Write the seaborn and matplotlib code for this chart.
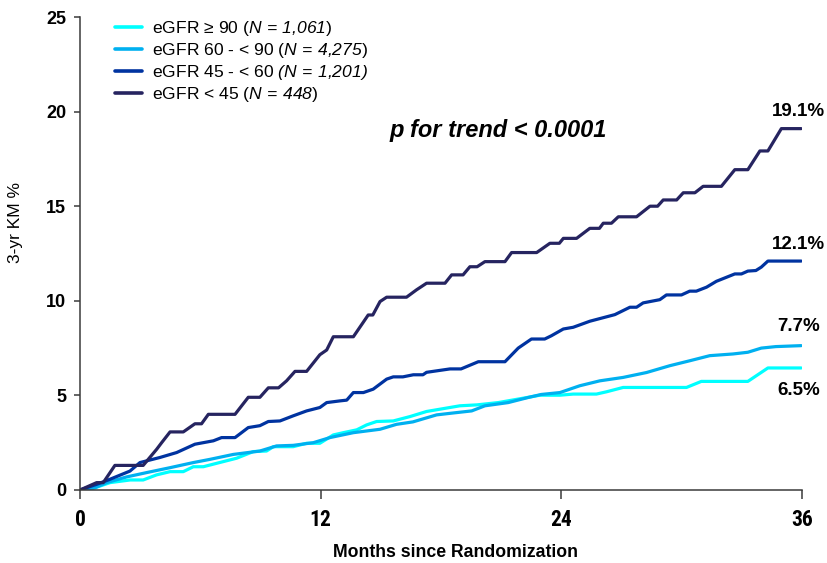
import matplotlib
matplotlib.use("Agg")
import matplotlib.pyplot as plt
from matplotlib import font_manager as fm
import seaborn as sns
import pandas as pd

# ---------------- data ----------------
groups = [
    r"eGFR ≥ 90 ($\mathsf{N\,=\,1{,}061}$)",
    r"eGFR 60 - < 90 ($\mathsf{N\,=\,4{,}275}$)",
    r"eGFR 45 - < 60 $\mathsf{(N\,=\,1{,}201)}$",
    r"eGFR < 45 ($\mathsf{N\,=\,448}$)",
]
colors = ["#00FFFF", "#00B0F0", "#0033A0", "#262460"]
end_labels = ["6.5%", "7.7%", "12.1%", "19.1%"]
end_label_y = [5.28, 8.65, 13.0, 20.0]

months_ge90 = [0, 0.41, 1.5, 2.5, 3.15, 3.82, 4.49, 5.15, 5.65, 6.15, 6.81, 7.81, 8.64, 9.3, 9.64,
               10.63, 11.3, 11.96, 12.63, 13.13, 13.8, 14.29, 14.79, 15.62, 16.45, 17.28, 18.94,
               19.8, 20.85, 22.35, 22.93, 23.93, 24.59, 25.75, 26.25, 27.08, 30.24, 30.98, 33.3,
               34.3, 35.96]
km_ge90 = [0, 0, 0.39, 0.53, 0.53, 0.8, 0.97, 0.97, 1.23, 1.23, 1.41, 1.68, 2.03, 2.06, 2.29,
           2.29, 2.47, 2.47, 2.91, 3.03, 3.18, 3.44, 3.62, 3.65, 3.88, 4.15, 4.45,
           4.5, 4.62, 4.9, 5.01, 5.01, 5.07, 5.07, 5.19, 5.42, 5.42, 5.74, 5.74,
           6.45, 6.45]

months_60_90 = [0, 0.75, 1.33, 2.32, 3.32, 4.49, 5.65, 6.48, 7.64, 8.97, 9.8, 10.63, 11.63, 12.46,
                13.63, 14.96, 15.78, 16.6, 17.78, 18.6, 19.53, 20.19, 21.35, 22.35, 23.0, 23.93,
                24.92, 25.92, 27.08, 28.25, 29.41, 30.4, 31.4, 32.56, 33.3, 33.97, 34.7, 35.96]
km_60_90 = [0, 0.12, 0.39, 0.69, 0.92, 1.18, 1.45, 1.62, 1.88, 2.06, 2.33, 2.36, 2.5, 2.77,
            3.03, 3.21, 3.47, 3.6, 3.97, 4.07, 4.18, 4.45, 4.62, 4.89, 5.05, 5.15,
            5.51, 5.77, 5.95, 6.21, 6.57, 6.83, 7.1, 7.19, 7.28, 7.5, 7.58, 7.63]

months_45_60 = [0, 0.83, 1.5, 2.49, 2.99, 3.99, 4.82, 5.73, 6.65, 7.06, 7.73, 8.39, 8.97, 9.39,
                9.97, 10.63, 11.3, 11.96, 12.3, 12.96, 13.3, 13.63, 14.13, 14.62, 15.29, 15.62,
                16.1, 16.62, 17.1, 17.28, 18.45, 19.0, 19.86, 21.19, 21.85, 22.51, 23.17, 23.5,
                24.1, 24.59, 25.42, 26.67, 27.42, 27.75, 28.08, 28.91, 29.24, 29.99, 30.4, 30.73,
                31.24, 31.73, 32.65, 32.98, 33.3, 33.7, 33.97, 34.3, 35.96]
km_45_60 = [0, 0.3, 0.57, 1.0, 1.45, 1.72, 1.98, 2.42, 2.6, 2.77, 2.77, 3.3, 3.4, 3.62,
            3.65, 3.92, 4.18, 4.36, 4.62, 4.71, 4.75, 5.15, 5.15, 5.33, 5.86, 5.98,
            5.98, 6.09, 6.09, 6.22, 6.4, 6.4, 6.78, 6.78, 7.5, 7.98, 7.98, 8.15,
            8.51, 8.6, 8.92, 9.27, 9.66, 9.66, 9.89, 10.06, 10.31, 10.31, 10.51, 10.51,
            10.72, 11.03, 11.42, 11.42, 11.57, 11.6, 11.78, 12.1, 12.1]

months_lt45 = [0, 0.83, 1.16, 1.74, 3.15, 3.82, 4.07, 4.49, 5.15, 5.73, 6.06, 6.4, 7.73, 8.39,
               8.97, 9.39, 9.9, 10.3, 10.72, 11.3, 11.96, 12.3, 12.63, 13.63, 14.12, 14.37,
               14.6, 14.96, 15.29, 16.28, 16.78, 17.28, 18.2, 18.53, 19.1, 19.44, 19.8, 20.19,
               21.19, 21.52, 22.77, 23.43, 23.9, 24.1, 24.76, 25.42, 25.9, 26.09, 26.5, 26.84,
               27.75, 28.42, 28.8, 29.08, 29.75, 30.08, 30.66, 31.07, 31.98, 32.65, 33.3, 33.9,
               34.3, 34.97, 35.96]
km_lt45 = [0, 0.39, 0.39, 1.3, 1.3, 2.15, 2.5, 3.07, 3.07, 3.5, 3.5, 4.0, 4.0, 4.9,
           4.9, 5.4, 5.4, 5.77, 6.27, 6.27, 7.15, 7.4, 8.1, 8.1, 8.86, 9.25,
           9.25, 9.96, 10.19, 10.19, 10.58, 10.93, 10.93, 11.37, 11.37, 11.8, 11.8, 12.07,
           12.07, 12.55, 12.55, 13.04, 13.04, 13.3, 13.3, 13.83, 13.83, 14.1, 14.1, 14.44,
           14.44, 15.0, 15.0, 15.33, 15.33, 15.71, 15.71, 16.05, 16.05, 16.93, 16.93, 17.92,
           17.92, 19.1, 19.1]

x_ticks = [0, 12, 24, 36]
y_ticks = [0, 5, 10, 15, 20, 25]
p_text = "p for trend < 0.0001"
x_label = "Months since Randomization"
y_label = "3-yr KM %"

# ---------------- build frame ----------------
series = [(months_ge90, km_ge90), (months_60_90, km_60_90),
          (months_45_60, km_45_60), (months_lt45, km_lt45)]
frames = []
for g, (mx, ky) in zip(groups, series):
    frames.append(pd.DataFrame({"month": mx, "km": ky, "group": g}))
df = pd.concat(frames, ignore_index=True)

# ---------------- pick a condensed font for x tick labels if one exists ----------------
font_names = {f.name for f in fm.fontManager.ttflist}
narrow_family, narrow_stretch, xtick_size = "Liberation Sans", "normal", 14
for cand in ["Liberation Sans Narrow", "Arial Narrow", "Roboto Condensed", "Open Sans Condensed"]:
    if cand in font_names:
        narrow_family, narrow_stretch, xtick_size = cand, "normal", 15.5
        break
else:
    if any(f.name == "DejaVu Sans" and str(f.stretch) == "condensed"
           and f.weight in ("bold", 700) for f in fm.fontManager.ttflist):
        narrow_family, narrow_stretch, xtick_size = "DejaVu Sans", "condensed", 14

# ---------------- style ----------------
sns.set_theme(style="white")
plt.rcParams["font.family"] = ["Liberation Sans", "DejaVu Sans"]
plt.rcParams["mathtext.fontset"] = "custom"
plt.rcParams["mathtext.rm"] = "Liberation Sans"
plt.rcParams["mathtext.it"] = "Liberation Sans:italic"
plt.rcParams["mathtext.sf"] = "Liberation Sans:italic"
plt.rcParams["mathtext.bf"] = "Liberation Sans:bold"

fig = plt.figure(figsize=(8.27, 5.63), dpi=100)
ax = fig.add_axes([80 / 827, 73 / 563, 722 / 827, 473 / 563])

sns.lineplot(data=df, x="month", y="km", hue="group", hue_order=groups,
             palette=colors, estimator=None, sort=False, linewidth=2.3, ax=ax)

ax.set_xlim(0, 36)
ax.set_ylim(0, 25)
ax.set_xticks(x_ticks)
ax.set_yticks(y_ticks)

for side in ["top", "right"]:
    ax.spines[side].set_visible(False)
for side in ["left", "bottom"]:
    ax.spines[side].set_color("#3a3a3a")
    ax.spines[side].set_linewidth(1.1)

ax.tick_params(axis="x", bottom=True, direction="out", length=6.5, width=1.1,
               color="#3a3a3a", pad=7)
ax.tick_params(axis="y", left=True, direction="out", length=4, width=1.1,
               color="#3a3a3a", pad=6)
for lab in ax.get_xticklabels():
    lab.set_fontfamily(narrow_family)
    lab.set_fontstretch(narrow_stretch)
    lab.set_fontweight("bold")
    lab.set_fontsize(xtick_size)
    lab.set_color("black")
for lab in ax.get_yticklabels():
    lab.set_fontweight("bold")
    lab.set_fontsize(13)
    lab.set_color("black")

ax.set_xlabel(x_label, fontsize=12.7, fontweight="bold", color="black")
ax.xaxis.set_label_coords(0.52, -0.115)
ax.set_ylabel(y_label, fontsize=12.5, color="black")
ax.yaxis.set_label_coords(-0.079, 0.566)

ax.text(15.45, 19.0, p_text, fontsize=17, fontweight="bold", fontstyle="italic",
        ha="left", va="center", color="black")

for lbl, ly in zip(end_labels, end_label_y):
    ax.text(35.84, ly, lbl, fontsize=13.5, fontweight="bold", ha="center",
            va="center", color="black", clip_on=False)

leg = ax.legend(loc="upper left", bbox_to_anchor=(0.048, 0.996), frameon=False,
                fontsize=12.6, handlelength=1.55, handletextpad=0.6,
                labelspacing=0.17, borderpad=0, borderaxespad=0)
for line in leg.get_lines():
    line.set_linewidth(2.6)
for t in leg.get_texts():
    t.set_color("black")

fig.savefig("out.png", dpi=100)
